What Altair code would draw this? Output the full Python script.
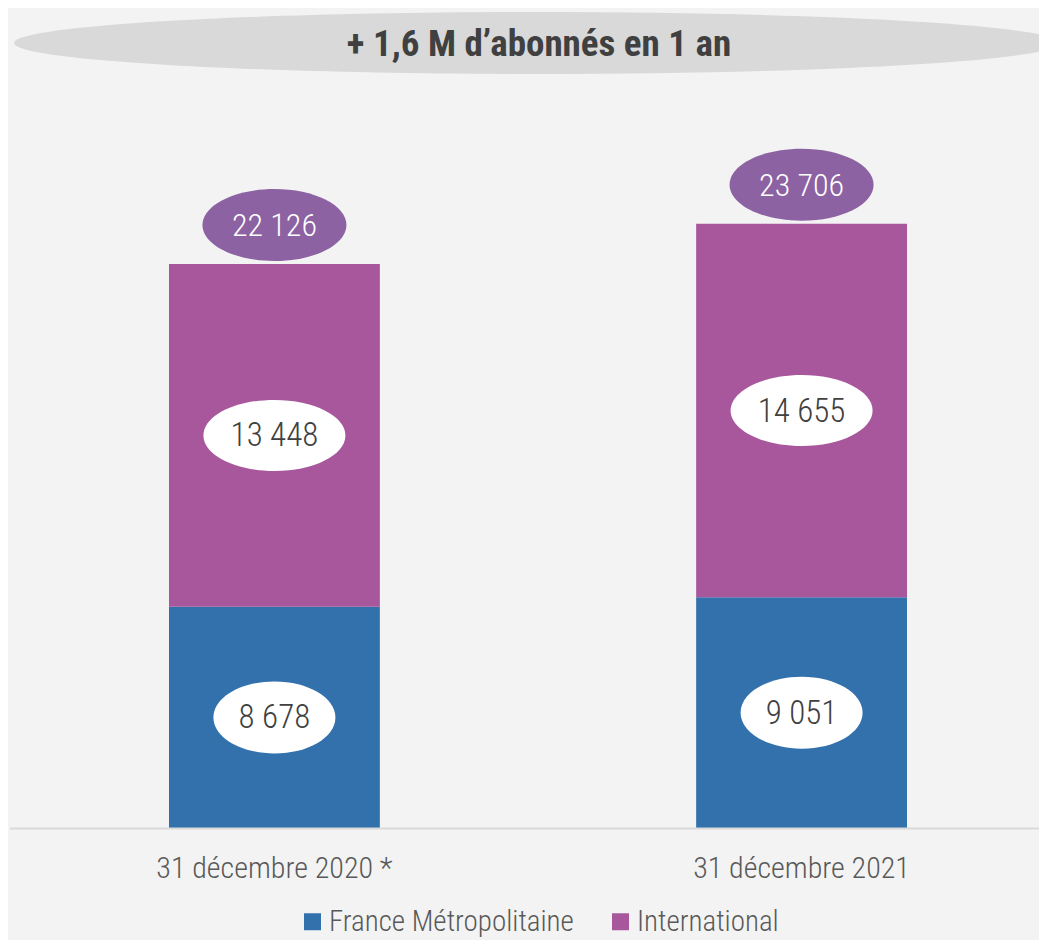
import altair as alt
import pandas as pd

# ---- data ----
dates = ["31 décembre 2020 *", "31 décembre 2021"]
series = ["France Métropolitaine", "International"]
france = [8678, 9051]
international = [13448, 14655]
title_text = ["+ 1,6 M d’abonnés en 1 an"]

# ---- style ----
FONT = "Liberation Sans Narrow, Roboto Condensed, DejaVu Sans Condensed, sans-serif"
BLUE = "#3371AC"
PURPLE = "#A8579C"
TOTAL_PURPLE = "#8C62A2"
TEXT_DARK = "#404040"
TEXT_GREY = "#595959"
W, H = 1029, 820


def fr(v):
    return f"{v:,}".replace(",", " ")


def ellipse(ratio):
    return f"M -1 0 A 1 {ratio} 0 1 0 1 0 A 1 {ratio} 0 1 0 -1 0 Z"


rows = []
for i, d in enumerate(dates):
    for k, (s, vals) in enumerate(zip(series, [france, international])):
        rows.append({"date": d, "serie": s, "order": k, "value": vals[i], "label": fr(vals[i])})
df = pd.DataFrame(rows)
tot = pd.DataFrame({"date": dates, "total": [a + b for a, b in zip(france, international)]})
tot["label"] = tot["total"].map(fr)
tdf = pd.DataFrame({"t": title_text})

xs = alt.Scale(domain=dates, range=[159, 897], paddingInner=0.6, paddingOuter=0)
ys = alt.Scale(domain=[0, 32170], nice=False, zero=True)

x_enc = alt.X("date:N", scale=xs, sort=dates,
              axis=alt.Axis(title=None, domain=False, ticks=False, labelAngle=0,
                            labelFont=FONT, labelFontSize=30, labelFontWeight=300,
                            labelColor=TEXT_GREY, labelPadding=25, labelLimit=0))

base = alt.Chart(df).transform_stack(
    stack="value", groupby=["date"], as_=["y0", "y1"], sort=[alt.SortField("order")]
).transform_calculate(mid="(datum.y0 + datum.y1) / 2")

bars = base.mark_bar().encode(
    x=x_enc,
    y=alt.Y("y0:Q", scale=ys, axis=None),
    y2="y1:Q",
    color=alt.Color("serie:N", scale=alt.Scale(domain=series, range=[BLUE, PURPLE]),
                    legend=alt.Legend(title=None, orient="none", legendX=288, legendY=899,
                                      direction="horizontal", symbolType="square",
                                      symbolSize=289, symbolStrokeWidth=0, symbolOpacity=1,
                                      labelFont=FONT, labelFontSize=29, labelFontWeight=300,
                                      labelColor=TEXT_GREY, labelOffset=2, columnPadding=32,
                                      labelLimit=0)),
)

baseline = alt.Chart(tdf).mark_rule(color="#D9D9D9", strokeWidth=2).encode(
    x=alt.value(0), x2=alt.value(W), y=alt.value(H + 0.5)
)

small_ell = base.transform_filter("datum.value < 10000").mark_point(
    shape=ellipse(0.59), size=122 ** 2, filled=True, color="white", opacity=1, strokeWidth=0
).encode(x=alt.X("date:N", scale=xs), y=alt.Y("mid:Q", scale=ys))

big_ell = base.transform_filter("datum.value >= 10000").mark_point(
    shape=ellipse(0.5), size=142 ** 2, filled=True, color="white", opacity=1, strokeWidth=0
).encode(x=alt.X("date:N", scale=xs), y=alt.Y("mid:Q", scale=ys))

seg_text = base.mark_text(font=FONT, fontSize=33, fontWeight=300, color=TEXT_DARK,
                          baseline="middle", align="center", dy=1).encode(
    x=alt.X("date:N", scale=xs), y=alt.Y("mid:Q", scale=ys), text="label:N"
)

tot_ell = alt.Chart(tot).mark_point(
    shape=ellipse(0.5), size=144 ** 2, filled=True, color=TOTAL_PURPLE, opacity=1,
    strokeWidth=0, yOffset=-39
).encode(x=alt.X("date:N", scale=xs), y=alt.Y("total:Q", scale=ys))

tot_text = alt.Chart(tot).mark_text(font=FONT, fontSize=32, fontWeight=300, color="white",
                                    baseline="middle", align="center", dy=-38).encode(
    x=alt.X("date:N", scale=xs), y=alt.Y("total:Q", scale=ys), text="label:N"
)

title_ell = alt.Chart(tdf).mark_point(
    shape=ellipse(0.0593), size=1046 ** 2, filled=True, color="#D9D9D9", opacity=1, strokeWidth=0
).encode(x=alt.value(527), y=alt.value(35))

title_txt = alt.Chart(tdf).mark_text(font=FONT, fontSize=37, fontWeight="bold", color=TEXT_DARK,
                                     baseline="middle", align="center").encode(
    x=alt.value(529), y=alt.value(37), text="t:N"
)

chart = alt.layer(
    title_ell, title_txt, bars, baseline, small_ell, big_ell, seg_text, tot_ell, tot_text
).properties(
    width=W, height=H,
    padding={"left": 2, "top": 0, "right": 0, "bottom": 112},
    autosize=alt.AutoSizeParams(type="none"),
).configure(background="#F3F3F3").configure_view(stroke=None)

chart.save("out.html", embed_options={"renderer": "svg", "actions": False})
